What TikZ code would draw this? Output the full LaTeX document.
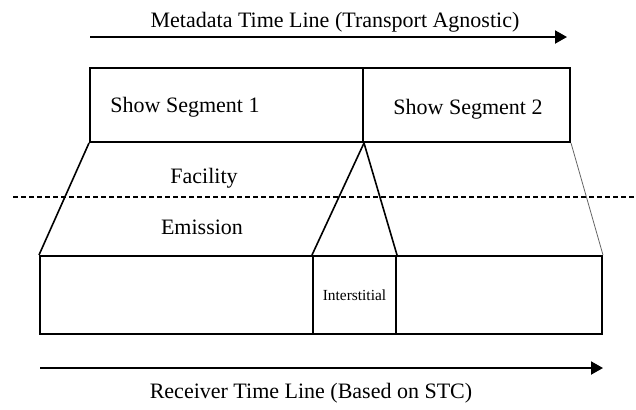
\documentclass[tikz,border=0pt]{standalone}
\usepackage{fontspec}
\setmainfont{Liberation Serif}
\usetikzlibrary{arrows.meta}

\begin{document}
\begin{tikzpicture}[x=0.5pt, y=-0.5pt,
    segbox/.style={draw, line width=1pt, inner sep=0pt, minimum height=37pt},
    slotbox/.style={draw, line width=1pt, inner sep=0pt, minimum height=39pt},
    timeline/.style={line width=1pt, -{Triangle[length=6pt, width=6.5pt]}},
    edge/.style={line width=0.8pt},
    boundary/.style={line width=1pt, dash pattern=on 2.5pt off 1.5pt},
    caption/.style={font=\fontsize{11}{13}\selectfont, inner sep=0pt}]
  \useasboundingbox (0,0) rectangle (636,409);

  % metadata time line on top
  \node[caption] (metatitle) at (335,22) {Metadata Time Line (Transport Agnostic)};
  \coordinate (metastart) at (90,37);
  \coordinate (metaend) at (567,37);
  \draw[timeline] (metastart) -- (metaend);

  % the two show segments
  \node[segbox, minimum width=136.5pt] (seg1) at (226.5,105) {};
  \node[segbox, minimum width=103.5pt] (seg2) at (466.5,105) {};
  \node[caption] (seg1text) at (185,107) {Show Segment 1};
  \node[caption] (seg2text) at (468,109) {Show Segment 2};

  % facility / emission boundary
  \coordinate (bleft) at (13,197);
  \coordinate (bright) at (636,197);
  \draw[boundary] (bleft) -- (bright);
  \node[caption] (facility) at (204,178) {Facility};
  \node[caption] (emission) at (202,227) {Emission};

  % slots on the receiver side
  \node[slotbox, minimum width=136.5pt] (slot1) at (176.5,295) {};
  \node[slotbox, minimum width=41.5pt, font=\fontsize{7.7}{9}\selectfont] (inter) at (354.5,295) {Interstitial};
  \node[slotbox, minimum width=103pt] (slot2) at (499,295) {};

  % mapping of the segments onto the slots
  \draw[edge] (seg1.south west) -- (slot1.north west);
  \draw[edge] (seg1.south east) -- (inter.north west);
  \draw[edge] (seg1.south east) -- (inter.north east);
  \draw[line width=0.4pt, black!60] (seg2.south east) -- (slot2.north east);

  % receiver time line at the bottom
  \coordinate (recstart) at (40,368);
  \coordinate (recend) at (603,368);
  \draw[timeline] (recstart) -- (recend);
  \node[caption] (rectitle) at (311,393) {Receiver Time Line (Based on STC)};
\end{tikzpicture}
\end{document}
